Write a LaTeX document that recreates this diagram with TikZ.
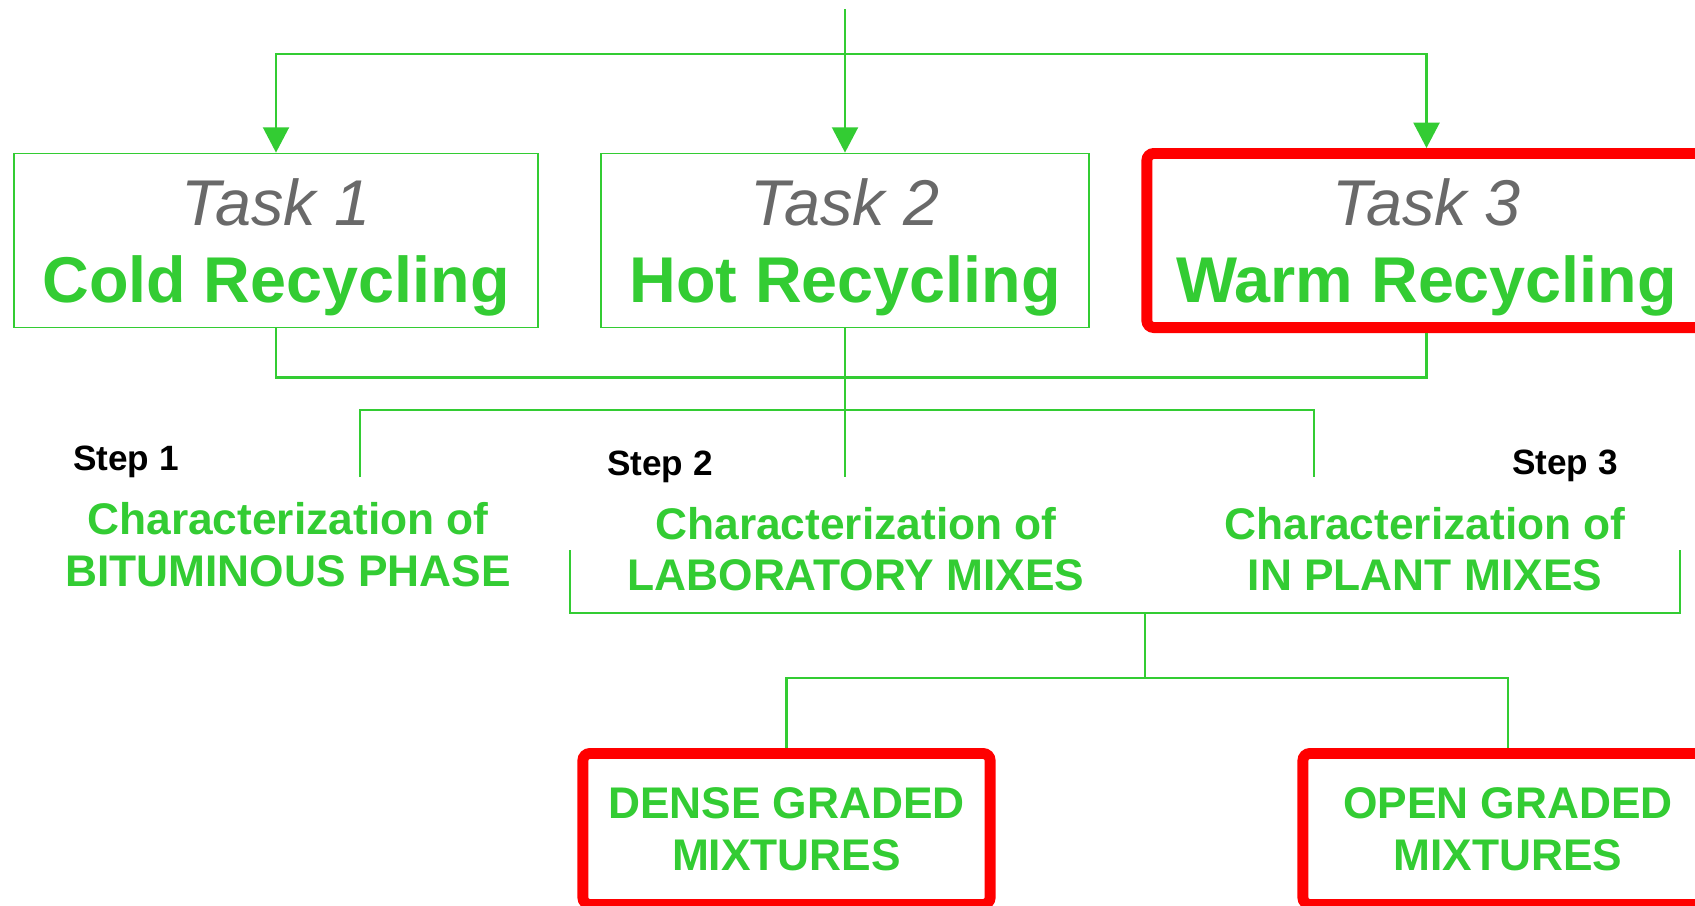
\documentclass[tikz,border=0pt]{standalone}
\usepackage{fontspec}
\setmainfont{Liberation Sans}
\usepackage{tikz}
\usetikzlibrary{positioning}
\usetikzlibrary{arrows.meta}
\definecolor{recgreen}{RGB}{51,204,51}
\definecolor{taskgray}{RGB}{105,105,105}
\definecolor{hotred}{RGB}{255,0,0}
\tikzset{
  link/.style={draw=recgreen, line width=0.6pt},
  arr/.style={link, -{Triangle[length=7.2pt,width=7.4pt]}},
  taskbox/.style={draw=recgreen, line width=0.5pt, minimum height=1.74cm, align=center, inner sep=0pt},
  redbox/.style={draw=hotred, line width=3.1pt, rounded corners=2pt, align=center, inner sep=0pt},
  tasktitle/.style={font=\fontsize{18.4}{22}\selectfont},
  steplabel/.style={anchor=base, font=\bfseries\fontsize{10}{12}\selectfont},
  chartext/.style={text=recgreen, align=center, font=\bfseries\fontsize{12.6}{14.7}\selectfont},
}
\newcommand{\tasktext}[2]{\rule{0pt}{17.2pt}{\color{taskgray}\itshape #1}\\{\color{recgreen}\bfseries #2}}

\begin{document}
\begin{tikzpicture}[x=0.01cm, y=-0.01cm]
\useasboundingbox (0,0) rectangle (1695,905);
% tasks
\node[taskbox, tasktitle, minimum width=5.24cm] (t1) at (276,240.5) {\tasktext{Task 1}{Cold Recycling}};
\node[taskbox, tasktitle, minimum width=4.88cm] (t2) at (845,240.5) {\tasktext{Task 2}{Hot Recycling}};
\node[redbox, tasktitle, minimum width=5.59cm, minimum height=1.74cm] (t3) at (1426.5,240.5) {\tasktext{Task 3}{Warm Recycling}};
\coordinate (src) at (845,9);
\coordinate (hub) at (845,54);
\draw[arr] (src) -- (t2.north);
\draw[arr] (hub) -| (t1.north);
\draw[arr] (hub) -| (t3.north);
% steps
\coordinate (s1) at (360,477);
\coordinate (s3) at (1314,477);
\coordinate (fork) at (845,410);
\draw[link] (t1.south) -- ++(0,49) -| (t3.south);
\draw[link] (t2.south) -- (t2.south |- s1);
\draw[link] (s1) |- (fork) -| (s3);
\node[steplabel] (st1) at (126,470) {Step 1};
\node[steplabel] (st2) at (660,475) {Step 2};
\node[steplabel] (st3) at (1565,474) {Step 3};
\node[chartext] (ch1) at (288,544.5) {Characterization of\\BITUMINOUS PHASE};
\node[chartext] (ch2) at (856,549) {Characterization of\\LABORATORY MIXES};
\node[chartext] (ch3) at (1425,549) {Characterization of\\IN PLANT MIXES};
% mixtures
\coordinate (bl) at (570,550);
\coordinate (br) at (1680,550);
\coordinate (mix) at (1145,613);
\coordinate (split) at (1145,678);
\draw[link] (bl) -- ++(0,63) -| (br);
\draw[link] (mix) -- (split);
\node[redbox, chartext, minimum width=4.07cm, minimum height=1.51cm] (d1) at (786.5,829) {DENSE GRADED\\MIXTURES};
\node[redbox, chartext, minimum width=4.10cm, minimum height=1.51cm] (d2) at (1508,829) {OPEN GRADED\\MIXTURES};
\draw[link] (d1.north) |- (split) -| (d2.north);
\end{tikzpicture}
\end{document}
